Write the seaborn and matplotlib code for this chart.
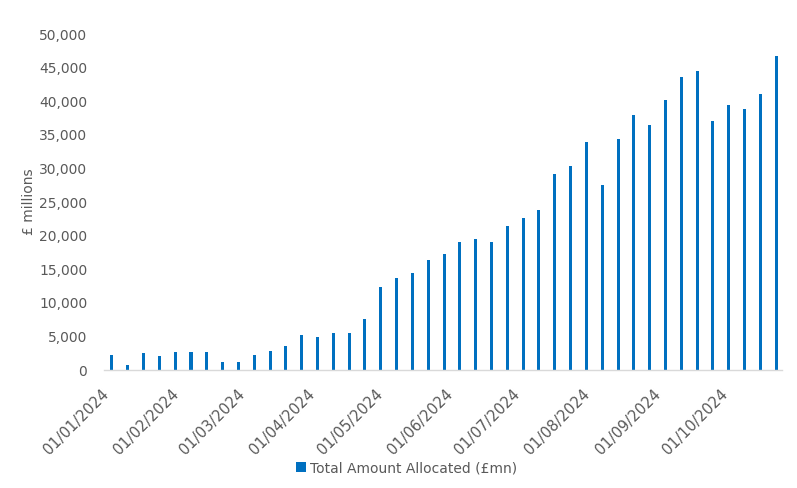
import matplotlib
matplotlib.use("Agg")
import matplotlib.pyplot as plt
import matplotlib.dates as mdates
from matplotlib.patches import Patch
import seaborn as sns
import pandas as pd
import numpy as np

# ---- data ----
week_start = "2024-01-01"
n_weeks = 43
values = [2300, 750, 2480, 2040, 2730, 2630, 2630, 1240, 1240, 2280,
          2830, 3620, 5260, 4910, 5460, 5460, 7640, 12300, 13650, 14480,
          16370, 17210, 19100, 19540, 19000, 21380, 22670, 23810, 29120, 30400,
          33980, 27480, 34330, 37990, 36500, 40220, 43650, 44450, 37100, 39390,
          38790, 41020, 46680]
series_name = "Total Amount Allocated (£mn)"
y_label = "£ millions"
month_ticks = ["2024-01-01", "2024-02-01", "2024-03-01", "2024-04-01", "2024-05-01",
               "2024-06-01", "2024-07-01", "2024-08-01", "2024-09-01", "2024-10-01"]

dates = pd.date_range(week_start, periods=n_weeks, freq="7D")
df = pd.DataFrame({"date": mdates.date2num(dates), "value": values})

sns.set_theme(style="white")
plt.rcParams["font.family"] = ["DejaVu Sans"]
text_col = "#595959"
bar_col = "#0070C0"

fig = plt.figure(figsize=(7.97, 4.88), dpi=100)
ax = fig.add_axes([0.1305, 0.2418, 0.981 - 0.1305, 0.930 - 0.2418])

sns.barplot(data=df, x="date", y="value", native_scale=True, width=0.19,
            color=bar_col, saturation=1, ax=ax, linewidth=0)

ax.set_xlim(mdates.date2num(pd.Timestamp("2023-12-28 12:00")),
            mdates.date2num(pd.Timestamp("2024-10-23 12:00")))
ax.set_ylim(0, 50000)
ax.set_yticks(np.arange(0, 50001, 5000))
ax.yaxis.set_major_formatter(matplotlib.ticker.FuncFormatter(lambda v, p: f"{int(v):,}"))

ax.set_xticks(mdates.date2num(pd.to_datetime(month_ticks)))
ax.xaxis.set_major_formatter(mdates.DateFormatter("%d/%m/%Y"))
for lab in ax.get_xticklabels():
    lab.set_rotation(45)
    lab.set_ha("right")
    lab.set_rotation_mode("default")
    lab.set_fontsize(10.6)

ax.tick_params(axis="both", length=0, colors=text_col)
ax.tick_params(axis="y", pad=12, labelsize=10)
ax.tick_params(axis="x", pad=12)

for s in ["top", "right", "left"]:
    ax.spines[s].set_visible(False)
ax.spines["bottom"].set_color("#D9D9D9")
ax.spines["bottom"].set_linewidth(1)

ax.set_xlabel("")
ax.set_ylabel(y_label, color=text_col, fontsize=10)
ax.yaxis.set_label_coords(-0.10, 0.5)

handle = Patch(facecolor=bar_col, edgecolor="none", label=series_name)
fig.legend(handles=[handle], loc="center", bbox_to_anchor=(0.51, 1 - 468 / 488),
           frameon=False, fontsize=10, labelcolor=text_col,
           handlelength=0.7, handleheight=0.7, handletextpad=0.3)

fig.savefig("out.png", dpi=100)
